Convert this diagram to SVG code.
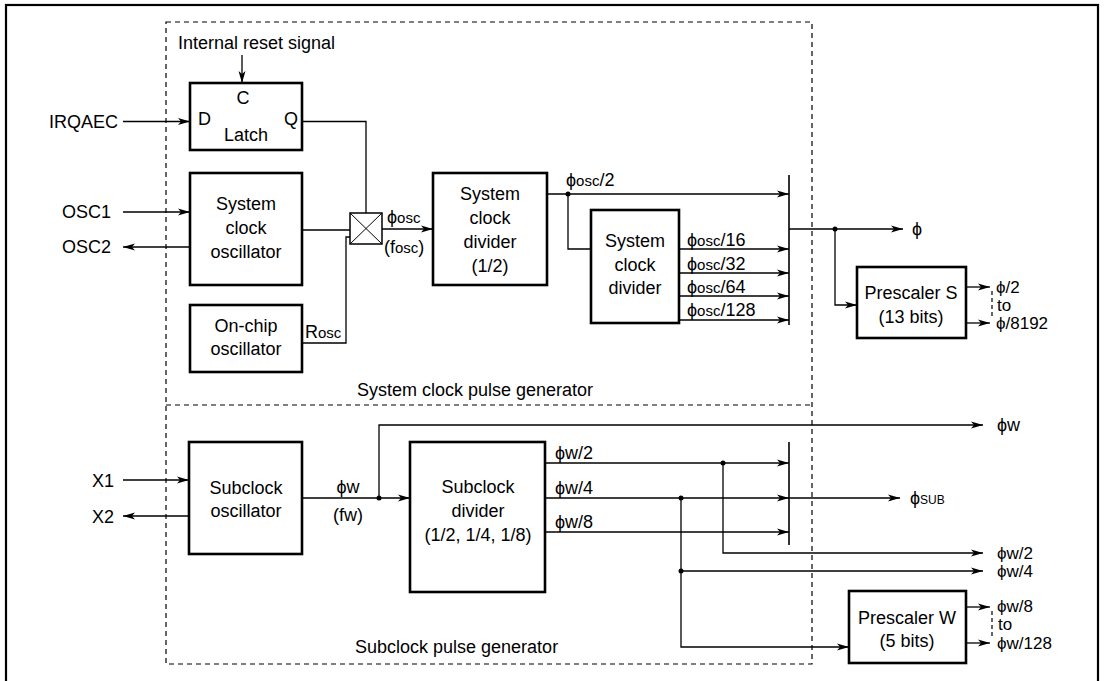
<svg xmlns="http://www.w3.org/2000/svg" width="1105" height="681" viewBox="0 0 1105 681">
<defs>
<marker id="arr" markerUnits="userSpaceOnUse" markerWidth="12" markerHeight="8" viewBox="0 0 12 8" refX="12" refY="4" orient="auto">
<path d="M0,0.5 L12,4 L0,7.5 L3,4 z" fill="#000"/>
</marker>
<style>
text{font-family:"Liberation Sans",Arial,Helvetica,sans-serif;font-size:18px;fill:#000}
.c{text-anchor:middle}
.e{text-anchor:end}
.s{font-size:15px}
.xs{font-size:12px}
.r{font-size:17px}
.box{fill:#fff;stroke:#000;stroke-width:2.6}
.w{fill:none;stroke:#000;stroke-width:1.3}
.a{fill:none;stroke:#000;stroke-width:1.3;marker-end:url(#arr)}
.bar{fill:none;stroke:#000;stroke-width:1.6}
.dash{fill:none;stroke:#000;stroke-width:1.2;stroke-dasharray:5,4}
.dot{fill:#000}
</style>
</defs>
<rect width="1105" height="681" fill="#fff"/>
<rect x="6" y="5" width="1092" height="700" fill="none" stroke="#000" stroke-width="2.2"/>

<g id="regions">
<path class="dash" d="M166,22 H812 V664 H166 Z M166,405 H812"/>
<text x="357" y="396">System clock pulse generator</text>
<text x="355" y="653">Subclock pulse generator</text>
</g>

<g id="connectors">
<line class="a" x1="242" y1="55" x2="242" y2="83"/>
<line class="a" x1="123" y1="121.5" x2="190" y2="121.5"/>
<line class="a" x1="123" y1="212" x2="190" y2="212"/>
<line class="a" x1="190" y1="247" x2="123" y2="247"/>
<polyline class="w" points="302,121.5 366,121.5 366,213"/>
<line class="w" x1="302" y1="230" x2="350" y2="230"/>
<polyline class="w" points="302,343 346,343 346,237 350,237"/>
<line class="a" x1="382" y1="229" x2="433" y2="229"/>
<line class="a" x1="547" y1="194" x2="789" y2="194"/>
<polyline class="w" points="568,194 568,249 591,249"/>
<line class="a" x1="679" y1="249" x2="789" y2="249"/>
<line class="a" x1="679" y1="273" x2="789" y2="273"/>
<line class="a" x1="679" y1="296" x2="789" y2="296"/>
<line class="a" x1="679" y1="320" x2="789" y2="320"/>
<line class="bar" x1="789" y1="175" x2="789" y2="325"/>
<line class="a" x1="789" y1="229" x2="903" y2="229"/>
<polyline class="a" points="835,229 835,305 857,305"/>
<line class="a" x1="966" y1="287" x2="990" y2="287"/>
<line class="a" x1="966" y1="323" x2="990" y2="323"/>
<line class="dash" x1="992" y1="291" x2="992" y2="319" style="stroke-dasharray:4,3"/>
<circle class="dot" cx="568" cy="194" r="2.5"/>
<circle class="dot" cx="835" cy="229" r="2.5"/>

<line class="a" x1="123" y1="480" x2="189" y2="480"/>
<line class="a" x1="189" y1="516" x2="123" y2="516"/>
<line class="a" x1="302" y1="498" x2="410" y2="498"/>
<polyline class="a" points="379,498 379,425 983,425"/>
<line class="a" x1="545" y1="463" x2="789" y2="463"/>
<line class="a" x1="545" y1="498" x2="789" y2="498"/>
<line class="a" x1="545" y1="532" x2="789" y2="532"/>
<line class="bar" x1="789" y1="442" x2="789" y2="545"/>
<line class="a" x1="789" y1="498" x2="900" y2="498"/>
<polyline class="a" points="723,463 723,553 983,553"/>
<line class="a" x1="681" y1="571" x2="983" y2="571"/>
<polyline class="a" points="681,498 681,647 849,647"/>
<line class="a" x1="966" y1="607" x2="990" y2="607"/>
<line class="a" x1="966" y1="643" x2="990" y2="643"/>
<line class="dash" x1="992" y1="611" x2="992" y2="639" style="stroke-dasharray:4,3"/>
<circle class="dot" cx="379" cy="498" r="2.5"/>
<circle class="dot" cx="723" cy="463" r="2.5"/>
<circle class="dot" cx="681" cy="498" r="2.5"/>
<circle class="dot" cx="681" cy="571" r="2.5"/>
</g>

<g id="labels">
<text x="178" y="49">Internal reset signal</text>
<text x="49" y="127.5">IRQAEC</text>
<text x="62" y="218">OSC1</text>
<text x="62" y="253">OSC2</text>
<text x="305" y="338">R<tspan class="s">osc</tspan></text>
<text x="387" y="223">ϕ<tspan class="s">osc</tspan></text>
<text x="384" y="253">(f<tspan class="s">osc</tspan>)</text>
<text x="566" y="186">ϕ<tspan class="s">osc</tspan>/2</text>
<text x="687" y="246">ϕ<tspan class="s">osc</tspan>/16</text>
<text x="687" y="270">ϕ<tspan class="s">osc</tspan>/32</text>
<text x="687" y="293">ϕ<tspan class="s">osc</tspan>/64</text>
<text x="687" y="316">ϕ<tspan class="s">osc</tspan>/128</text>
<text x="912" y="235">ϕ</text>
<text x="996" y="293" class="r">ϕ/2</text>
<text x="997" y="311" class="r">to</text>
<text x="996" y="329" class="r">ϕ/8192</text>
<text x="92" y="486.5">X1</text>
<text x="92" y="522.5">X2</text>
<text x="348" y="493" class="c">ϕw</text>
<text x="348" y="521" class="c">(fw)</text>
<text x="555" y="459">ϕw/2</text>
<text x="555" y="494">ϕw/4</text>
<text x="555" y="528">ϕw/8</text>
<text x="997" y="431">ϕw</text>
<text x="910" y="504">ϕ<tspan class="xs">SUB</tspan></text>
<text x="997" y="559" class="r">ϕw/2</text>
<text x="997" y="577" class="r">ϕw/4</text>
<text x="997" y="612" class="r">ϕw/8</text>
<text x="998" y="630" class="r">to</text>
<text x="997" y="649" class="r">ϕw/128</text>
</g>

<g id="latch">
<rect class="box" x="190" y="83" width="112" height="67"/>
<text x="243" y="104" class="c">C</text>
<text x="198" y="124.5">D</text>
<text x="298" y="124.5" class="e">Q</text>
<text x="246" y="140.5" class="c">Latch</text>
</g>

<g id="sys-osc">
<rect class="box" x="190" y="173" width="112" height="112"/>
<text x="246" y="209.5" class="c">System</text>
<text x="246" y="233.5" class="c">clock</text>
<text x="246" y="257.5" class="c">oscillator</text>
</g>

<g id="onchip-osc">
<rect class="box" x="190" y="305" width="112" height="67"/>
<text x="246" y="332" class="c">On-chip</text>
<text x="246" y="355" class="c">oscillator</text>
</g>

<g id="mux">
<rect x="350" y="213" width="32" height="31" fill="#fff" stroke="#000" stroke-width="1.5"/>
<path d="M350,213 L382,244 M382,213 L350,244" stroke="#000" stroke-width="1" fill="none"/>
</g>

<g id="sys-div-2">
<rect class="box" x="433" y="173" width="114" height="112"/>
<text x="490" y="199.5" class="c">System</text>
<text x="490" y="224" class="c">clock</text>
<text x="490" y="248" class="c">divider</text>
<text x="490" y="272" class="c">(1/2)</text>
</g>

<g id="sys-div">
<rect class="box" x="591" y="210" width="88" height="113"/>
<text x="635" y="246.5" class="c">System</text>
<text x="635" y="270.5" class="c">clock</text>
<text x="635" y="294" class="c">divider</text>
</g>

<g id="prescaler-s">
<rect class="box" x="857" y="267" width="109" height="71"/>
<text x="911" y="298.5" class="c">Prescaler S</text>
<text x="911" y="322.5" class="c">(13 bits)</text>
</g>

<g id="sub-osc">
<rect class="box" x="189" y="442" width="113" height="112"/>
<text x="246" y="493.5" class="c">Subclock</text>
<text x="246" y="516.5" class="c">oscillator</text>
</g>

<g id="sub-div">
<rect class="box" x="410" y="442" width="135" height="150"/>
<text x="478" y="492.5" class="c">Subclock</text>
<text x="478" y="516.5" class="c">divider</text>
<text x="478" y="540.5" class="c">(1/2, 1/4, 1/8)</text>
</g>

<g id="prescaler-w">
<rect class="box" x="849" y="591" width="117" height="72"/>
<text x="907" y="623.5" class="c">Prescaler W</text>
<text x="907" y="646.5" class="c">(5 bits)</text>
</g>
</svg>
